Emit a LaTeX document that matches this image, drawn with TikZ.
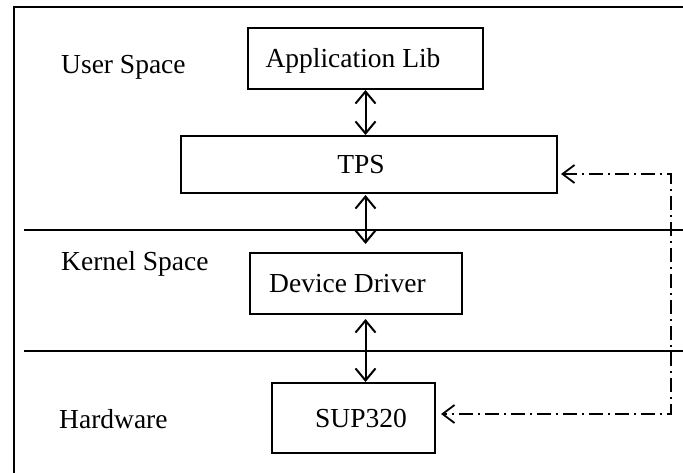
\documentclass[tikz,border=0pt]{standalone}
\usepackage{fontspec}
\setmainfont{Liberation Serif}
\usetikzlibrary{arrows.meta}
\begin{document}
\begin{tikzpicture}[x=1pt,y=-1pt,
  txt/.style={font=\fontsize{27.5}{33}\selectfont},
  box/.style={draw, line width=2pt, inner sep=0pt, txt, text height=19pt, text depth=0pt},
  lbl/.style={anchor=base west, inner sep=0pt, txt},
  sepline/.style={line width=2.2pt},
  dbl/.style={line width=2pt, {Straight Barb[length=12pt,width=20pt,line width=2pt]}-{Straight Barb[length=12pt,width=20pt,line width=2pt]}},
  ctl/.style={line width=1.6pt, dash pattern=on 14pt off 5pt on 2pt off 5pt,
    {Straight Barb[length=12pt,width=18pt,line width=1.8pt]}-{Straight Barb[length=12pt,width=18pt,line width=1.8pt]}}
]
\useasboundingbox (0,0) rectangle (683,473);
\fill[white] (0,0) rectangle (683,473);

% frame and layer separators
\draw[line width=2.6pt] (683,7) -- (14,7) -- (14,473);
\draw[sepline] (24,230) -- (683,230);
\draw[sepline] (24,351) -- (683,351);

% layer labels
\node[lbl] (user) at (61,74) {User Space};
\node[lbl] (kern) at (61,270) {Kernel Space};
\node[lbl] (hw) at (59,428) {Hardware};

% boxes
\node[box, minimum width=235pt, minimum height=61pt] (app) at (365.5,58.5) {\hspace*{-25pt}Application Lib};
\node[box, minimum width=376pt, minimum height=57pt] (tps) at (369,164.5) {\hspace*{-16pt}TPS};
\node[box, minimum width=212pt, minimum height=61pt] (dev) at (356,283.5) {\hspace*{-17pt}Device Driver};
\node[box, minimum width=163pt, minimum height=70pt] (sup) at (353.5,418) {\hspace*{15pt}SUP320};

% vertical double arrows
\draw[dbl] (app.south) -- (app.south |- tps.north);
\draw[dbl, shorten <=1pt, shorten >=8pt] (app.south |- tps.south) -- (app.south |- dev.north);
\draw[dbl, shorten <=4pt] (app.south |- dev.south) -- (app.south |- sup.north);

% dash-dot control connector
\coordinate (c1) at (671,174);
\coordinate (c2) at (671,414);
\draw[ctl, shorten <=3pt, shorten >=5pt] (tps.east |- c1) -- (c1) -- (c2) -- (c2 -| sup.east);
\end{tikzpicture}
\end{document}
